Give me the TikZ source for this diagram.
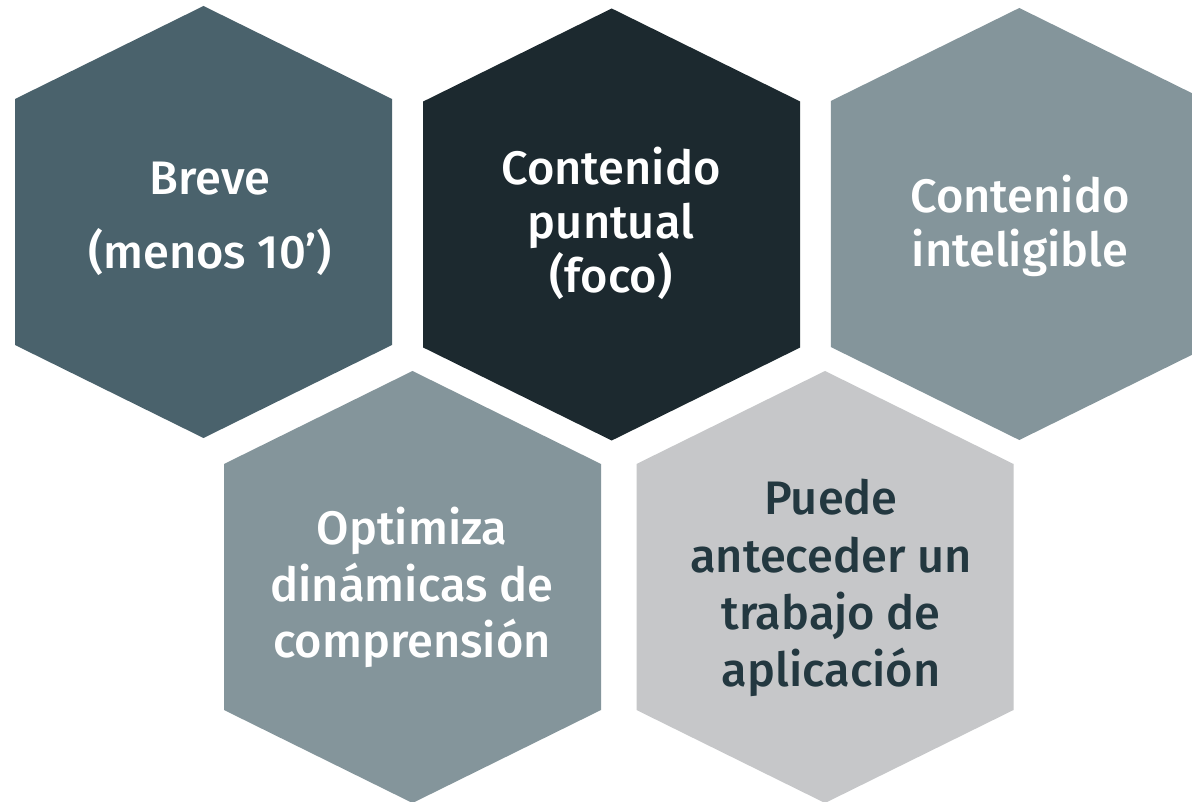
\documentclass[tikz,border=0pt]{standalone}
\usepackage{fontspec}
\setmainfont{Fira Sans Medium}
\definecolor{hexA}{HTML}{4A626C}
\definecolor{hexB}{HTML}{1C292F}
\definecolor{hexC}{HTML}{84959B}
\definecolor{hexD}{HTML}{C6C7C9}
\definecolor{txtD}{HTML}{233840}
\newcommand\hexpath[3]{%
  \fill[#3] (#1,#2) -- ++(188.5,93) -- ++(0,246) -- ++(-188.5,93) -- ++(-188.5,-93) -- ++(0,-246) -- cycle;}
\begin{document}
\begin{tikzpicture}[x=1pt,y=-1pt,
  hextext/.style={anchor=south,inner sep=0pt,text depth=0pt,align=center,
    font=\fontsize{47}{56}\selectfont,text=white}]
\useasboundingbox (0,0) rectangle (1192,802);
\fill[white] (0,0) rectangle (1192,802);
\begin{scope}
\clip (0,0) rectangle (1192,802);
\hexpath{203.5}{6}{hexA}
\hexpath{611.7}{8.5}{hexB}
\hexpath{1019.3}{8}{hexC}
\hexpath{412.5}{371}{hexC}
\hexpath{825}{371}{hexD}
\end{scope}
\node[hextext,font=\fontsize{47}{74}\selectfont] (t1) at (210,269) {Breve\\(menos 10’)};
\node[hextext,font=\fontsize{47}{54}\selectfont] (t2) at (611,293) {Contenido\\puntual\\(foco)};
\node[hextext,font=\fontsize{47}{54}\selectfont] (t3) at (1020,267) {Contenido\\inteligible};
\node[hextext,font=\fontsize{47}{56.5}\selectfont] (t4) at (412,658) {Optimiza\\dinámicas de\\comprensión};
\node[hextext,font=\fontsize{47}{57.3}\selectfont,text=txtD] (t5) at (831,687) {Puede\\anteceder un\\trabajo de\\aplicación};
\end{tikzpicture}
\end{document}
